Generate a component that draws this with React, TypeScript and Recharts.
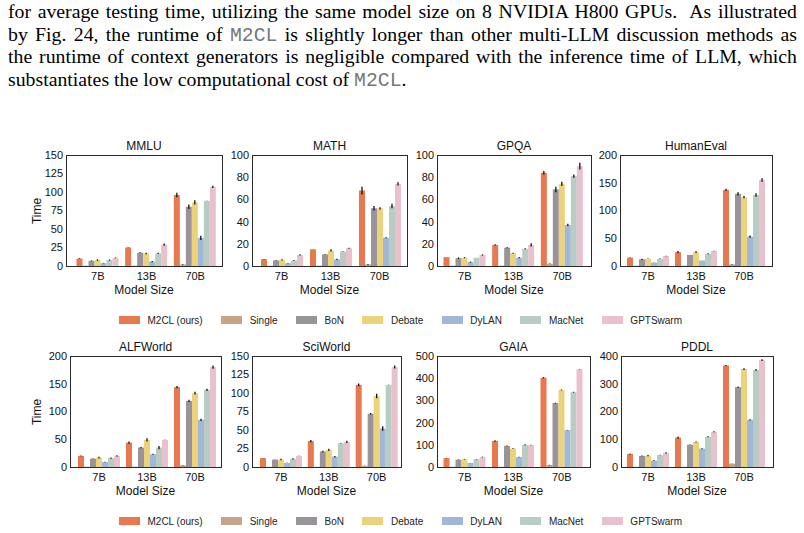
import React from 'react';
import { BarChart, Bar, XAxis, YAxis, ErrorBar } from 'recharts';

const sizes = ['7B', '13B', '70B'];
const methods = ['M2CL (ours)', 'Single', 'BoN', 'Debate', 'DyLAN', 'MacNet', 'GPTSwarm'];
const colors = ['#E8784F', '#C4A58A', '#99939A', '#EBD37B', '#A0B7D8', '#B9CCC4', '#E8C1CC'];

// rows = model size, columns = method (same order as `methods`)
const mmluTime = [[10, 0.5, 7, 8, 4, 8, 11], [25, 0.5, 18, 17, 6, 17, 29], [96, 2, 80, 86, 38, 88, 107]];
const mmluErr = [[0.5, 0, 0.5, 1, 0.3, 0.8, 0.5], [0.5, 0, 0.5, 1, 0.8, 0.8, 1.5], [3, 0.5, 3, 3, 3, 0.3, 1.5]];
const mathTime = [[6, 0.3, 5, 5.5, 2.5, 5, 10], [15, 0.3, 10.5, 14, 6, 13, 16], [68, 1.5, 52, 52, 25.5, 54, 74]];
const mathErr = [[0.3, 0, 0.2, 0.5, 0.3, 0.3, 0.5], [0.2, 0, 0.2, 1, 0.5, 0.2, 0.5], [3.5, 0.3, 2, 1, 0.5, 2, 1.5]];
const gpqaTime = [[8, 0.3, 7, 7.5, 3.5, 7.5, 10], [19, 0.3, 16.5, 11.5, 7.5, 15.5, 19], [84, 2, 69, 74, 37, 81, 90]];
const gpqaErr = [[0, 0, 0.7, 0.5, 0.5, 0, 0.5], [0.5, 0, 0.5, 0.5, 0.5, 0.5, 1.5], [1.5, 0.3, 2.5, 2, 1, 1.5, 3]];
const humanEvalTime = [[15, 0.5, 12, 13, 6, 13, 18], [25, 0.5, 20, 25, 10, 22, 27], [137, 3, 130, 124, 53, 128, 155]];
const humanEvalErr = [[0.5, 0, 1, 0.5, 0.3, 0.5, 0.5], [2, 0, 0, 1.5, 0, 1, 0.5], [2, 0.5, 3, 2, 2, 3, 3]];
const alfTime = [[20, 0.5, 15, 17, 9, 16, 20], [44, 0.5, 35, 49, 23, 35, 49], [144, 3, 119, 133, 85, 139, 180]];
const alfErr = [[0.5, 0, 0.5, 1.5, 0.5, 1, 1], [2, 0, 1, 3, 1, 3, 0.3], [2, 0.5, 2, 2.5, 2, 2, 3]];
const sciTime = [[12, 0.3, 10, 10, 5.5, 11, 15], [35, 0.3, 21, 23, 14, 32, 34], [111, 1.5, 72, 96, 52, 111, 135]];
const sciErr = [[0.3, 0, 0.3, 1, 0.2, 0.8, 0.3], [1.5, 0, 1, 1.5, 1, 0.3, 1.5], [2, 0.3, 1, 3, 3, 0.3, 2]];
const gaiaTime = [[40, 1, 33, 35, 18, 35, 45], [117, 1, 95, 83, 45, 100, 99], [402, 9, 288, 347, 166, 337, 440]];
const gaiaErr = [[1, 0, 1, 1.5, 0.5, 1, 1.5], [3, 0, 2, 2, 1, 2, 1], [3, 1, 2, 2, 1, 2, 1]];
const pddlTime = [[47, 1, 40, 41, 23, 43, 51], [106, 1, 80, 90, 66, 109, 127], [366, 12, 288, 353, 170, 350, 385]];
const pddlErr = [[2, 0, 1, 2, 1, 1, 2], [4, 0, 1, 2, 2, 2, 2], [2, 0.5, 2, 3, 2, 3, 3]];

const ticks150 = [0, 25, 50, 75, 100, 125, 150];
const ticks100 = [0, 20, 40, 60, 80, 100];
const ticks200 = [0, 50, 100, 150, 200];
const ticks500 = [0, 100, 200, 300, 400, 500];
const ticks400 = [0, 100, 200, 300, 400];

const SANS = '"Liberation Sans", Arial, sans-serif';
const PH = 111; // plot height
const ML = 40; // y axis width
const MT = 10;
const MR = 2;
const XH = 22;

const panels = [
  { title: 'MMLU', time: mmluTime, err: mmluErr, ticks: ticks150, left: 66, top: 155, width: 156, padL: 7.5, padR: 2.5, yLabel: true },
  { title: 'MATH', time: mathTime, err: mathErr, ticks: ticks100, left: 252, top: 155, width: 155, padL: 5, padR: 3 },
  { title: 'GPQA', time: gpqaTime, err: gpqaErr, ticks: ticks100, left: 437, top: 155, width: 154, padL: 3.5, padR: 4.5 },
  { title: 'HumanEval', time: humanEvalTime, err: humanEvalErr, ticks: ticks200, left: 620, top: 155, width: 152, padL: 4, padR: 4 },
  { title: 'ALFWorld', time: alfTime, err: alfErr, ticks: ticks200, left: 70, top: 356, width: 151, padL: 5, padR: 2, yLabel: true },
  { title: 'SciWorld', time: sciTime, err: sciErr, ticks: ticks150, left: 252, top: 356, width: 149, padL: 5, padR: 0.5 },
  { title: 'GAIA', time: gaiaTime, err: gaiaErr, ticks: ticks500, left: 437, top: 356, width: 153, padL: 3.5, padR: 4 },
  { title: 'PDDL', time: pddlTime, err: pddlErr, ticks: ticks400, left: 621, top: 356, width: 152, padL: 3, padR: 5 },
];

function buildRows(time: number[][], err: number[][]) {
  return sizes.map((s, si) => {
    const row: any = { size: s };
    methods.forEach((_, mi) => {
      row['m' + mi] = time[si][mi];
      row['e' + mi] = err[si][mi];
    });
    return row;
  });
}

function Panel({ p }: { p: any }) {
  const rows = buildRows(p.time, p.err);
  const max = p.ticks[p.ticks.length - 1];
  const cx = p.left + p.width / 2;
  const tickStyle = { fontSize: 11, fill: '#111', fontFamily: SANS };
  return (
    <>
      <div style={{ position: 'absolute', left: p.left - ML, top: p.top - MT }}>
        <BarChart
          width={p.width + ML + MR}
          height={PH + MT + XH}
          data={rows}
          margin={{ top: MT, right: MR, left: 0, bottom: 0 }}
          barSize={6}
          barGap={0}
        >
          <XAxis dataKey="size" height={XH} padding={{ left: p.padL, right: p.padR }} tickLine={false} tickSize={0} tickMargin={6} interval={0} axisLine={false} tick={tickStyle} />
          <YAxis width={ML} domain={[0, max]} ticks={p.ticks} interval={0} allowDataOverflow tickLine={false} tickSize={0} tickMargin={3} axisLine={false} tick={tickStyle} />
          {methods.map((m, i) => (
            <Bar key={m} dataKey={'m' + i} name={m} fill={colors[i]} isAnimationActive={false}>
              <ErrorBar dataKey={'e' + i} width={0} stroke="#111" strokeWidth={1.3} />
            </Bar>
          ))}
        </BarChart>
      </div>
      {/* axes frame (all four spines) */}
      <div style={{ position: 'absolute', left: p.left - 0.5, top: p.top - 0.5, width: p.width + 1, height: PH + 1, border: '1px solid #2a2a2a', boxSizing: 'border-box', pointerEvents: 'none' }} />
      <div style={{ position: 'absolute', left: cx - 60, width: 120, top: p.top - 16, lineHeight: '14px', fontSize: 12, fontFamily: SANS, textAlign: 'center', color: '#111' }}>{p.title}</div>
      <div style={{ position: 'absolute', left: cx - 60, width: 120, top: p.top + PH + 17, lineHeight: '14px', fontSize: 12, fontFamily: SANS, textAlign: 'center', color: '#111' }}>Model Size</div>
      {p.yLabel && (
        <div style={{ position: 'absolute', zIndex: 2, left: 37, top: p.top + PH / 2, transform: 'translate(-50%, -50%) rotate(-90deg)', fontSize: 12, lineHeight: '14px', fontFamily: SANS, color: '#111', whiteSpace: 'nowrap' }}>Time</div>
      )}
    </>
  );
}

function Legend({ top }: { top: number }) {
  return (
    <div style={{ position: 'absolute', left: 119, top: top - 7, height: 14, display: 'flex', alignItems: 'center', fontFamily: SANS, fontSize: 10, color: '#222' }}>
      {methods.map((m, i) => (
        <div key={m} style={{ display: 'flex', alignItems: 'center', marginRight: 18.5 }}>
          <div style={{ width: 21, height: 8, background: colors[i], marginRight: 7.5 }} />
          <span>{m}</span>
        </div>
      ))}
    </div>
  );
}

const M2CL = <span style={{ fontFamily: '"Liberation Mono", monospace', color: '#777' }}>M2CL</span>;

const lineStyle: React.CSSProperties = { height: 22.7, lineHeight: '22.7px', textAlign: 'justify', textAlignLast: 'justify', whiteSpace: 'nowrap' };

export default function App() {
  return (
    <div style={{ position: 'absolute', left: 0, top: 0, width: 804, height: 533, background: '#fff', overflow: 'hidden' }}>
      <div style={{ position: 'absolute', left: 8, top: 0, width: 789, fontFamily: '"Liberation Serif", "Times New Roman", serif', fontSize: 19.8, color: '#000' }}>
        <div style={lineStyle}>for average testing time, utilizing the same model size on 8 NVIDIA H800 GPUs.&nbsp; As illustrated</div>
        <div style={lineStyle}>by Fig. 24, the runtime of {M2CL} is slightly longer than other multi-LLM discussion methods as</div>
        <div style={lineStyle}>the runtime of context generators is negligible compared with the inference time of LLM, which</div>
        <div style={{ ...lineStyle, textAlignLast: 'left' }}>substantiates the low computational cost of {M2CL}.</div>
      </div>
      {panels.map((p) => (
        <Panel key={p.title} p={p} />
      ))}
      <Legend top={320} />
      <Legend top={521} />
    </div>
  );
}
